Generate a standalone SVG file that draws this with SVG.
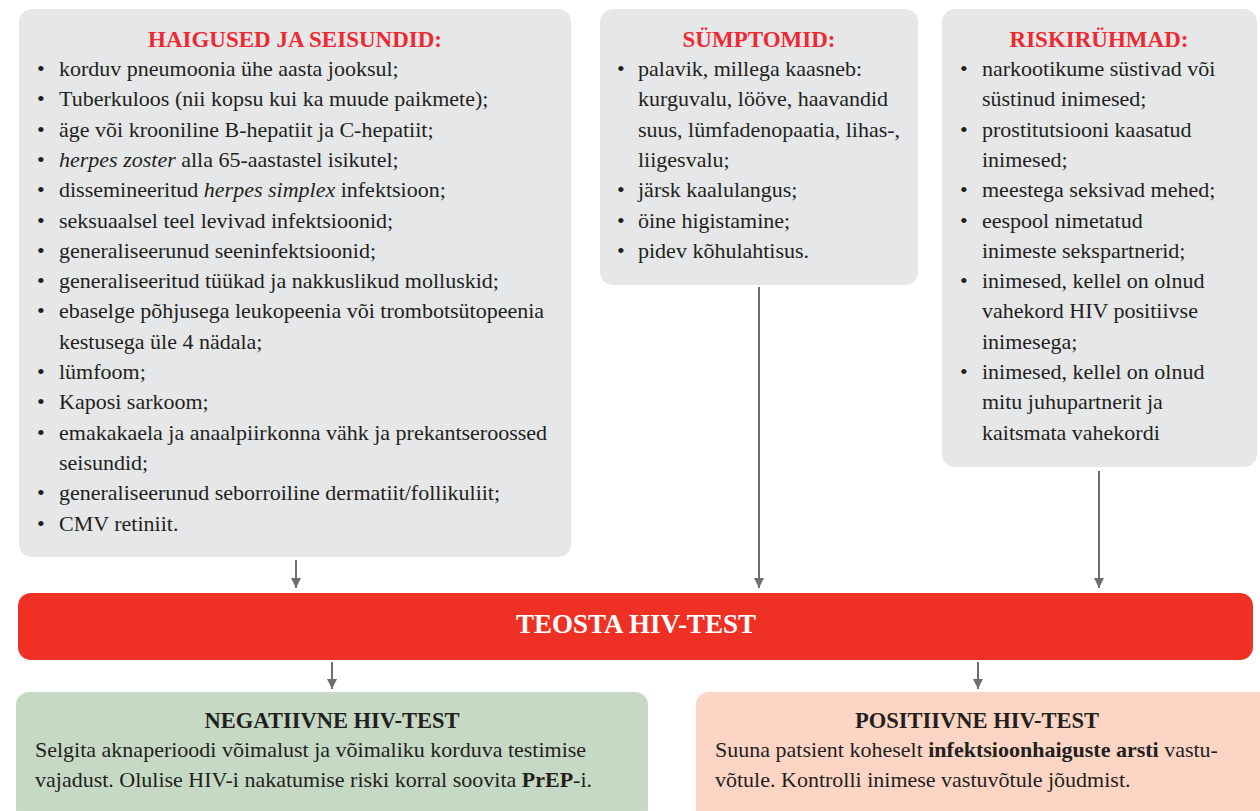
<svg xmlns="http://www.w3.org/2000/svg" width="1260" height="811" viewBox="0 0 1260 811">
<defs>
<marker id="ah" markerUnits="userSpaceOnUse" markerWidth="12" markerHeight="12" viewBox="0 0 12 12" refX="11" refY="6" orient="auto">
<path d="M1,1 L11,6 L1,11 Z" fill="#6d6e71"/>
</marker>
<style>
.box{fill:#e6e7e8}
.t{font-family:"Liberation Serif","Times New Roman",serif;font-size:22px;fill:#231f20}
.h{font-family:"Liberation Serif","Times New Roman",serif;font-size:23px;font-weight:bold;fill:#ed2a32;text-anchor:middle}
.hb{font-family:"Liberation Serif","Times New Roman",serif;font-size:22.5px;font-weight:bold;fill:#231f20;text-anchor:middle}
.b{font-weight:bold}
.i{font-style:italic}
.c{stroke:#6d6e71;stroke-width:2;fill:none}
</style>
</defs>
<g id="haigused">
<rect class="box" x="19" y="9" width="552" height="548" rx="13"/>
<text class="h" x="295" y="47">HAIGUSED JA SEISUNDID:</text>
<g class="t">
<text x="37" y="76">•</text><text x="59" y="76">korduv pneumoonia ühe aasta jooksul;</text>
<text x="37" y="106.3">•</text><text x="59" y="106.3">Tuberkuloos (nii kopsu kui ka muude paikmete);</text>
<text x="37" y="136.6">•</text><text x="59" y="136.6">äge või krooniline B-hepatiit ja C-hepatiit;</text>
<text x="37" y="166.9">•</text><text x="59" y="166.9"><tspan class="i">herpes zoster</tspan> alla 65-aastastel isikutel;</text>
<text x="37" y="197.2">•</text><text x="59" y="197.2">dissemineeritud <tspan class="i">herpes simplex</tspan> infektsioon;</text>
<text x="37" y="227.5">•</text><text x="59" y="227.5">seksuaalsel teel levivad infektsioonid;</text>
<text x="37" y="257.8">•</text><text x="59" y="257.8">generaliseerunud seeninfektsioonid;</text>
<text x="37" y="288.1">•</text><text x="59" y="288.1">generaliseeritud tüükad ja nakkuslikud molluskid;</text>
<text x="37" y="318.4">•</text><text x="59" y="318.4">ebaselge põhjusega leukopeenia või trombotsütopeenia</text>
<text x="59" y="348.7">kestusega üle 4 nädala;</text>
<text x="37" y="379">•</text><text x="59" y="379">lümfoom;</text>
<text x="37" y="409.3">•</text><text x="59" y="409.3">Kaposi sarkoom;</text>
<text x="37" y="439.6">•</text><text x="59" y="439.6">emakakaela ja anaalpiirkonna vähk ja prekantseroossed</text>
<text x="59" y="469.9">seisundid;</text>
<text x="37" y="500.2">•</text><text x="59" y="500.2">generaliseerunud seborroiline dermatiit/follikuliit;</text>
<text x="37" y="530.5">•</text><text x="59" y="530.5">CMV retiniit.</text>
</g>
</g>
<g id="symptomid">
<rect class="box" x="600" y="9" width="318" height="276" rx="13"/>
<text class="h" x="759" y="47">SÜMPTOMID:</text>
<g class="t">
<text x="617" y="76">•</text><text x="638" y="76">palavik, millega kaasneb:</text>
<text x="638" y="106.3">kurguvalu, lööve, haavandid</text>
<text x="638" y="136.6">suus, lümfadenopaatia, lihas-,</text>
<text x="638" y="166.9">liigesvalu;</text>
<text x="617" y="197.2">•</text><text x="638" y="197.2">järsk kaalulangus;</text>
<text x="617" y="227.5">•</text><text x="638" y="227.5">öine higistamine;</text>
<text x="617" y="257.8">•</text><text x="638" y="257.8">pidev kõhulahtisus.</text>
</g>
</g>
<g id="riskiryhmad">
<rect class="box" x="942" y="9" width="315" height="458" rx="13"/>
<text class="h" x="1099" y="47">RISKIRÜHMAD:</text>
<g class="t">
<text x="960" y="76">•</text><text x="982" y="76">narkootikume süstivad või</text>
<text x="982" y="106.3">süstinud inimesed;</text>
<text x="960" y="136.6">•</text><text x="982" y="136.6">prostitutsiooni kaasatud</text>
<text x="982" y="166.9">inimesed;</text>
<text x="960" y="197.2">•</text><text x="982" y="197.2">meestega seksivad mehed;</text>
<text x="960" y="227.5">•</text><text x="982" y="227.5">eespool nimetatud</text>
<text x="982" y="257.8">inimeste sekspartnerid;</text>
<text x="960" y="288.1">•</text><text x="982" y="288.1">inimesed, kellel on olnud</text>
<text x="982" y="318.4">vahekord HIV positiivse</text>
<text x="982" y="348.7">inimesega;</text>
<text x="960" y="379">•</text><text x="982" y="379">inimesed, kellel on olnud</text>
<text x="982" y="409.3">mitu juhupartnerit ja</text>
<text x="982" y="439.6">kaitsmata vahekordi</text>
</g>
</g>
<g id="teosta">
<rect x="18" y="593" width="1235" height="67" rx="13" fill="#ee3124"/>
<text x="636" y="633" text-anchor="middle" font-family="'Liberation Serif','Times New Roman',serif" font-size="27" font-weight="bold" fill="#ffffff">TEOSTA HIV-TEST</text>
</g>
<g id="negatiivne">
<rect x="16" y="692" width="632" height="130" rx="13" fill="#c6d9c4"/>
<text class="hb" x="332" y="728">NEGATIIVNE HIV-TEST</text>
<text class="t" x="35" y="757">Selgita aknaperioodi võimalust ja võimaliku korduva testimise</text>
<text class="t" x="35" y="787">vajadust. Olulise HIV-i nakatumise riski korral soovita <tspan class="b">PrEP</tspan>-i.</text>
</g>
<g id="positiivne">
<rect x="696" y="692" width="580" height="130" rx="13" fill="#fcd5c4"/>
<text class="hb" x="977" y="728">POSITIIVNE HIV-TEST</text>
<text class="t" x="715" y="757">Suuna patsient koheselt <tspan class="b">infektsioonhaiguste arsti</tspan> vastu-</text>
<text class="t" x="715" y="787">võtule. Kontrolli inimese vastuvõtule jõudmist.</text>
</g>
<g id="connectors">
<line class="c" x1="296" y1="560" x2="296" y2="588" marker-end="url(#ah)"/>
<line class="c" x1="759" y1="287" x2="759" y2="588" marker-end="url(#ah)"/>
<line class="c" x1="1099" y1="471" x2="1099" y2="588" marker-end="url(#ah)"/>
<line class="c" x1="332" y1="662" x2="332" y2="689" marker-end="url(#ah)"/>
<line class="c" x1="978" y1="662" x2="978" y2="689" marker-end="url(#ah)"/>
</g>
</svg>
